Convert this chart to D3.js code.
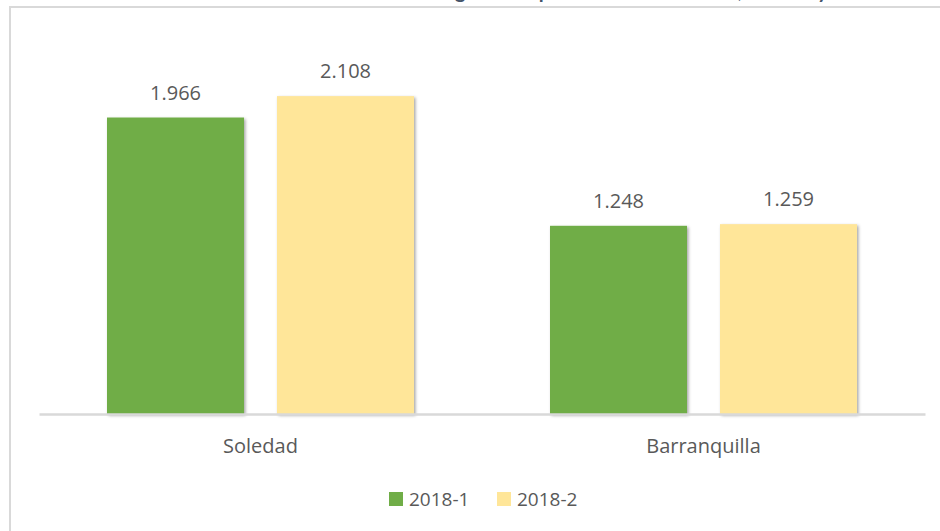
<!DOCTYPE html>
<html>
<head>
<meta charset="utf-8">
<script src="https://cdn.jsdelivr.net/npm/d3@7"></script>
<style>
  html, body { margin: 0; padding: 0; background: #fff; }
  svg { display: block; }
</style>
</head>
<body>
<div id="chart"></div>
<script>
// data
const categories = ['Soledad', 'Barranquilla'];
const periods = ['2018-1', '2018-2'];
const values2018_1 = [1966, 1248];
const values2018_2 = [2108, 1259];
const titleText = 'Número de egresados por nivel de formación, 2018-1 y 2018-2';

const colors = { '2018-1': '#70AD47', '2018-2': '#FFE699' };
const rows = categories.map((c, i) => ({
  cat: c,
  vals: [
    { key: '2018-1', v: values2018_1[i] },
    { key: '2018-2', v: values2018_2[i] }
  ]
}));

const width = 940;
const height = 531;
const font = "'Open Sans', 'DejaVu Sans', sans-serif";
const textColor = '#595959';

const esCO = d3.formatLocale({ decimal: ',', thousands: '.', grouping: [3], currency: ['$', ''] });
const fmt = esCO.format(',d');

const svg = d3.select('#chart').append('svg')
  .attr('width', width)
  .attr('height', height);

const defs = svg.append('defs');
const shadow = defs.append('filter')
  .attr('id', 'shadow')
  .attr('x', '-10%').attr('y', '-10%')
  .attr('width', '130%').attr('height', '130%');
shadow.append('feDropShadow')
  .attr('dx', 1.5).attr('dy', 1.5)
  .attr('stdDeviation', 1.8)
  .attr('flood-color', '#000')
  .attr('flood-opacity', 0.35);

// chart frame (runs off the right and bottom edge)
svg.append('rect')
  .attr('x', 10).attr('y', 7)
  .attr('width', 960).attr('height', 560)
  .attr('fill', 'none')
  .attr('stroke', '#d9d9d9')
  .attr('stroke-width', 2);

// title, mostly clipped at top like the source image
svg.append('text')
  .attr('x', 340)
  .attr('y', -2)
  .attr('font-family', "Lato, 'Open Sans', sans-serif")
  .attr('font-weight', 'bold')
  .attr('font-size', 20)
  .attr('fill', '#44546A')
  .text(titleText);

const x0 = d3.scaleBand()
  .domain(categories)
  .range([39, 925])
  .paddingInner(0)
  .paddingOuter(0);

const x1 = d3.scaleBand()
  .domain(periods)
  .range([68, x0.bandwidth() - 68])
  .paddingInner(33 / 170);

const y = d3.scaleLinear()
  .domain([0, 2500])
  .range([414, 37]);

const groups = svg.selectAll('g.cat')
  .data(rows)
  .enter()
  .append('g')
  .attr('class', 'cat')
  .attr('transform', d => 'translate(' + x0(d.cat) + ',0)');

groups.selectAll('rect')
  .data(d => d.vals)
  .enter()
  .append('rect')
  .attr('x', d => x1(d.key))
  .attr('y', d => y(d.v))
  .attr('width', x1.bandwidth())
  .attr('height', d => y(0) - y(d.v))
  .attr('fill', d => colors[d.key])
  .attr('filter', 'url(#shadow)');

groups.selectAll('text.val')
  .data(d => d.vals)
  .enter()
  .append('text')
  .attr('class', 'val')
  .attr('x', d => x1(d.key) + x1.bandwidth() / 2)
  .attr('y', d => y(d.v) - 18)
  .attr('text-anchor', 'middle')
  .attr('font-family', font)
  .attr('font-size', 20)
  .attr('fill', textColor)
  .text(d => fmt(d.v));

// category axis
const xAxis = svg.append('g')
  .attr('transform', 'translate(0,' + y(0) + ')')
  .call(d3.axisBottom(x0).tickSize(0).tickPadding(25));
xAxis.select('.domain')
  .attr('stroke', '#d9d9d9')
  .attr('stroke-width', 2.5);
xAxis.selectAll('text')
  .attr('font-family', font)
  .attr('font-size', 20)
  .attr('fill', textColor);

// legend
const legend = svg.append('g')
  .attr('transform', 'translate(389,492)');
const items = legend.selectAll('g')
  .data(periods)
  .enter()
  .append('g')
  .attr('transform', (d, i) => 'translate(' + i * 108 + ',0)');
items.append('rect')
  .attr('width', 14).attr('height', 14)
  .attr('fill', d => colors[d]);
items.append('text')
  .attr('x', 20)
  .attr('y', 14)
  .attr('font-family', font)
  .attr('font-size', 19)
  .attr('fill', textColor)
  .text(d => d);
</script>
</body>
</html>
